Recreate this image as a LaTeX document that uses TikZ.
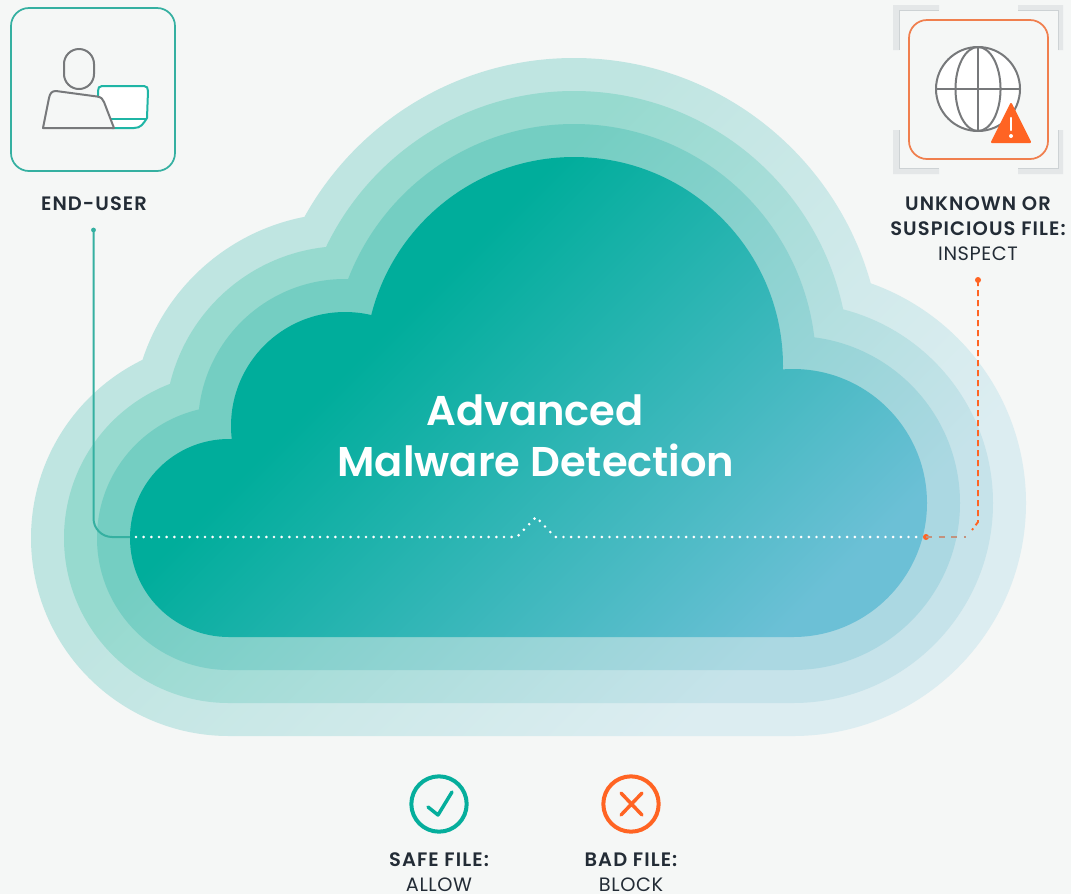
\documentclass[tikz,border=0pt]{standalone}
\usepackage{fontspec}
\setmainfont{Poppins}
\newfontfamily\lblfont[LetterSpace=5.5]{Poppins SemiBold}
\newfontfamily\sublblfont[LetterSpace=3]{Poppins}
\newfontfamily\ttlfont{Poppins SemiBold}
\definecolor{bgc}{HTML}{F5F7F6}
\definecolor{tealline}{HTML}{35B0A1}
\definecolor{tealicon}{HTML}{1FB5A5}
\definecolor{teald}{HTML}{05AE9C}
\definecolor{orangeline}{HTML}{F07F4E}
\definecolor{orangeicon}{HTML}{FF6423}
\definecolor{grayicon}{HTML}{77797B}
\definecolor{inkc}{HTML}{232C36}
\definecolor{bracketc}{HTML}{E4E7E8}
\definecolor{bracketl}{HTML}{CDD2D4}
\definecolor{zeroa}{HTML}{00AD9B}
\definecolor{zerob}{HTML}{6CC0D6}
\definecolor{onea}{HTML}{74CEC2}
\definecolor{oneb}{HTML}{ABD8E2}
\definecolor{twoa}{HTML}{97DACF}
\definecolor{twob}{HTML}{C6E3EA}
\definecolor{threea}{HTML}{BFE5E1}
\definecolor{threeb}{HTML}{DCEDF1}
\pgfdeclareverticalshading{layzero}{100bp}{color(0bp)=(zerob); color(38.5bp)=(zerob); color(61.5bp)=(zeroa); color(100bp)=(zeroa)}
\pgfdeclareverticalshading{layone}{100bp}{color(0bp)=(oneb); color(38.5bp)=(oneb); color(61.5bp)=(onea); color(100bp)=(onea)}
\pgfdeclareverticalshading{laytwo}{100bp}{color(0bp)=(twob); color(38.5bp)=(twob); color(61.5bp)=(twoa); color(100bp)=(twoa)}
\pgfdeclareverticalshading{laythree}{100bp}{color(0bp)=(threeb); color(38.5bp)=(threeb); color(61.5bp)=(threea); color(100bp)=(threea)}
\newcommand{\cloudlayer}[2]{%
  \begin{scope}
    \clip (229,538) circle[radius={(99+33*#1)*0.75pt}]
          (345,426) circle[radius={(114+33*#1)*0.75pt}]
          (574,366) circle[radius={(209+33*#1)*0.75pt}]
          (793,503) circle[radius={(134+33*#1)*0.75pt}]
          (229,{637+33*#1}) -- (793,{637+33*#1}) -- (793,503) -- (574,366) -- (345,426) -- (229,538) -- cycle;
    \shade[shading=#2,shading angle=45] (-7,-7) rectangle (1073,1073);
  \end{scope}}
\tikzset{
  px/.style={x=0.75pt,y=-0.75pt},
  lbl/.style={text=inkc,font=\lblfont\fontsize{14.6}{16}\selectfont,inner sep=0pt,anchor=center},
  sublbl/.style={text=inkc,font=\sublblfont\fontsize{14.5}{16}\selectfont,inner sep=0pt,anchor=center},
  ttl/.style={text=white,font=\ttlfont\fontsize{31.2}{38}\selectfont,inner sep=0pt,anchor=center},
  iconbox/.style={line width=1.3pt,rounded corners=13.5pt},
  icongray/.style={draw=grayicon,line width=1.5pt,line join=round},
  whitedots/.style={draw=white,line width=2.2pt,line cap=round,dash pattern=on 0pt off 5.75pt},
  enddot/.style={circle,inner sep=0pt,minimum size=4pt},
  bracket/.style={fill=bracketc,draw=none},
}
\begin{document}
\begin{tikzpicture}[px]
\useasboundingbox (0,0) rectangle (1071,894);
\fill[bgc] (0,0) rectangle (1071,894);
\cloudlayer{3}{laythree}
\cloudlayer{2}{laytwo}
\cloudlayer{1}{layone}
\cloudlayer{0}{layzero}

% title
\node[ttl] (advanced) at (535,410) {Advanced};
\node[ttl] (malware) at (536,460) {Malware Detection};

% end-user icon
\draw[iconbox,draw=tealline] (11,8) rectangle (175,171);
\node[lbl] (enduser) at (94,204) {END-USER};
\draw[icongray,fill=bgc] (64,64) arc[start angle=180,end angle=0,radius=11.25pt] -- (94,74) arc[start angle=0,end angle=-180,radius=11.25pt] -- cycle;
\draw[draw=tealicon,fill=white,line width=1.5pt,line join=round] (98,110) -- (98,91) .. controls (98,88) and (99,86) .. (102,86) -- (144,86) .. controls (147,86) and (148,88) .. (148,91) -- (147,118) .. controls (143,124) and (141,128) .. (134,128) -- (112,128) -- cycle;
\draw[draw=tealicon,line width=1.5pt] (110,119) -- (147,119);
\draw[icongray,fill=bgc] (43,128) -- (49,98) .. controls (50,93) and (52,91) .. (56,91) -- (97,96.5) .. controls (101,97) and (103,99) .. (104,102) -- (114,128) -- cycle;

% right icon
\fill[bracket] (893,50) -- (893,5) -- (939,5) -- (939,10.5) -- (899,10.5) -- (899,50) -- cycle;
\fill[bracket] (1018,5) -- (1063,5) -- (1063,50) -- (1058,50) -- (1058,10.5) -- (1018,10.5) -- cycle;
\fill[bracket] (893,130) -- (899,130) -- (899,168.5) -- (939,168.5) -- (939,174) -- (893,174) -- cycle;
\fill[bracket] (1058,130) -- (1063,130) -- (1063,174) -- (1018,174) -- (1018,168.5) -- (1058,168.5) -- cycle;
\draw[bracketl,line width=.5pt] (899,50) -- (899,10.5) -- (939,10.5) (1018,10.5) -- (1058,10.5) -- (1058,50) (899,130) -- (899,168.5) -- (939,168.5) (1018,168.5) -- (1058,168.5) -- (1058,130);
\draw[iconbox,draw=orangeline] (909,20) rectangle (1048,159);
\draw[icongray,fill=white] (978,89) circle[radius=31.5pt];
\draw[icongray] (978,89) ellipse[x radius=16.9pt,y radius=31.5pt];
\draw[icongray] (978,47) -- (978,131) (936,89) -- (1020,89);
\fill[orangeicon,draw=orangeicon,line width=1.5pt,line join=round] (1011,104) -- (1030,142) -- (992,142) -- cycle;
\draw[white,line width=1.8pt,line cap=round] (1011,118) -- (1011,130);
\fill[white] (1011,136) circle[radius=1.5pt];

\node[lbl] (unknown) at (978,204) {UNKNOWN OR};
\node[lbl] (suspicious) at (978,229) {SUSPICIOUS FILE:};
\node[sublbl] (inspect) at (978,254) {INSPECT};

% connectors
\node[enddot,fill=tealline,minimum size=3.6pt] (startdot) at (93.5,230) {};
\coordinate (leftin) at (130,537);
\coordinate (corner) at (93.5,537);
\draw[tealline,line width=1.5pt,rounded corners=14pt] (startdot.center) -- (corner) -- (leftin);
\coordinate (dotstart) at (136,537);
\coordinate (peakl) at (517,537);
\coordinate (peak) at (536,517);
\coordinate (peakr) at (555,537);
\node[enddot,fill=orangeicon,minimum size=4.5pt] (orangedot) at (926,537) {};
\coordinate (dotend) at (920,537);
\draw[whitedots] (dotstart) -- (peakl) -- (peak) -- (peakr) -- (dotend);
\coordinate (hend) at (966,537);
\coordinate (ocorner) at (978,537);
\node[enddot,fill=orangeicon,minimum size=4.5pt] (topdot) at (978,280) {};
\draw[draw=orangeline!50!gray!85,line width=1.1pt,dash pattern=on 4.5pt off 5pt] (orangedot.center) -- (hend);
\draw[orangeicon,line width=1.4pt,dash pattern=on 4.5pt off 3pt] (topdot.center) -- (978,522) -- (972,530);

% legend
\node[draw=teald,line width=3pt,circle,minimum size=41.5pt,inner sep=0pt,fill=bgc] (safe) at (439,804) {};
\draw[teald,line width=2.6pt,line cap=round,line join=round] (428,807) -- (438,815) -- (452,792);
\node[draw=orangeicon,line width=3pt,circle,minimum size=41.5pt,inner sep=0pt,fill=bgc] (bad) at (631,804) {};
\draw[orangeicon,line width=2.6pt,line cap=round] (621,793) -- (642,815) (642,793) -- (621,815);
\node[lbl] (safelbl) at (439,860) {SAFE FILE:};
\node[sublbl] (allow) at (439,885) {ALLOW};
\node[lbl] (badlbl) at (631,860) {BAD FILE:};
\node[sublbl] (block) at (631,885) {BLOCK};
\end{tikzpicture}
\end{document}
